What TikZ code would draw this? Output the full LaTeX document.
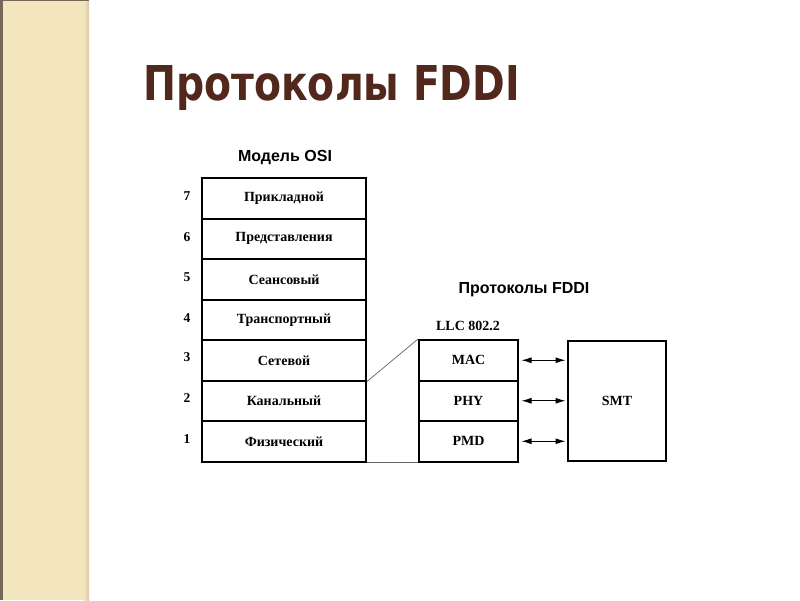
\documentclass[tikz,border=0pt]{standalone}
\usepackage{fontspec}
\setmainfont{Liberation Serif}
\newfontfamily\arialf{Liberation Sans}
\newfontfamily\titlef{DejaVu Sans}
\usetikzlibrary{arrows.meta}
\definecolor{titlebrown}{RGB}{82,40,28}
\definecolor{strip}{RGB}{243,229,190}
\definecolor{stripedge}{RGB}{118,104,88}
\definecolor{stripshade}{RGB}{214,200,165}
\definecolor{thinline}{RGB}{100,100,100}
\begin{document}
\begin{tikzpicture}[x=1pt,y=-1pt,
  osibox/.style={draw=black, line width=2pt, minimum width=164pt, minimum height=40.5pt, inner sep=0pt,
    font=\fontsize{14}{16}\selectfont\bfseries},
  fddibox/.style={draw=black, line width=2pt, minimum width=99pt, minimum height=40.5pt, inner sep=0pt,
    font=\fontsize{14}{16}\selectfont\bfseries},
  numlabel/.style={font=\fontsize{13.5}{15}\selectfont\bfseries, inner sep=0pt},
  headlabel/.style={font=\arialf\fontsize{16}{18}\selectfont\bfseries, inner sep=0pt},
  dbl/.style={{Latex[length=10pt,width=6pt]}-{Latex[length=10pt,width=6pt]}, line width=1pt},
  thin/.style={draw=thinline, line width=0.7pt}]
\useasboundingbox (0,0) rectangle (800,600);
% left decorative strip
\fill[strip] (0,0) rectangle (89,600);
\shade[left color=strip, right color=stripshade] (84,0) rectangle (89,600);
\fill[stripedge] (0,0) rectangle (2.5,600);
\fill[stripedge] (0,0) rectangle (89,1);
% title
\node[anchor=base west, inner sep=0pt, text=titlebrown] (title) at (143,100)
  {\scalebox{0.82}[1]{\titlef\fontsize{48}{56}\selectfont\bfseries Протоколы FDDI}};
% OSI model
\node[headlabel] (osihead) at (285,158) {Модель OSI};
\node[osibox] (l7) at (284,198.25) {Прикладной};
\node[osibox] (l6) at (284,238.75) {Представления};
\node[osibox] (l5) at (284,279.25) {Сеансовый};
\node[osibox] (l4) at (284,319.75) {Транспортный};
\node[osibox] (l3) at (284,360.25) {Сетевой};
\node[osibox] (l2) at (284,400.75) {Канальный};
\node[osibox] (l1) at (284,441.25) {Физический};
\node[numlabel] (n7) at (187,196) {7};
\node[numlabel] (n6) at (187,237.5) {6};
\node[numlabel] (n5) at (187,277.5) {5};
\node[numlabel] (n4) at (187,318) {4};
\node[numlabel] (n3) at (187,357.5) {3};
\node[numlabel] (n2) at (187,398) {2};
\node[numlabel] (n1) at (187,439) {1};
% FDDI
\node[headlabel] (fddihead) at (524,290) {Протоколы FDDI};
\node[numlabel, font=\fontsize{14}{16}\selectfont\bfseries] (llc) at (468,326) {LLC 802.2};
\node[fddibox] (mac) at (468.5,360.25) {MAC};
\node[fddibox] (phy) at (468.5,400.75) {PHY};
\node[fddibox] (pmd) at (468.5,441.25) {PMD};
\node[draw=black, line width=2pt, minimum width=98pt, minimum height=120pt, inner sep=0pt,
  font=\fontsize{14}{16}\selectfont\bfseries] (smt) at (617,400.5) {SMT};
% connectors
\draw[dbl] ([xshift=2.5pt]mac.east) -- ([xshift=-1.5pt]mac.east -| smt.west);
\draw[dbl] ([xshift=2.5pt]phy.east) -- ([xshift=-1.5pt]phy.east -| smt.west);
\draw[dbl] ([xshift=2.5pt]pmd.east) -- ([xshift=-1.5pt]pmd.east -| smt.west);
\draw[thin] (l3.south east) -- (mac.north west);
\draw[thin] (l1.south east) -- (pmd.south west);
\end{tikzpicture}
\end{document}
